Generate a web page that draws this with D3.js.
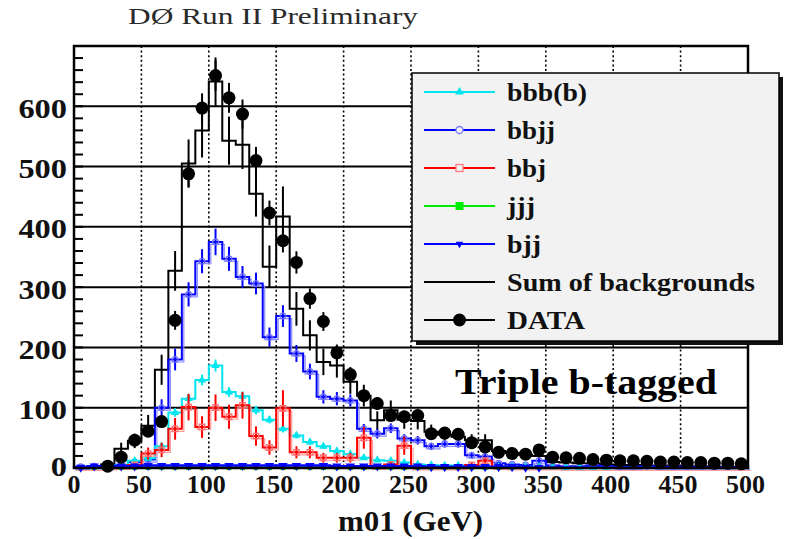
<!DOCTYPE html>
<html>
<head>
<meta charset="utf-8">
<script src="https://cdn.jsdelivr.net/npm/d3@7"></script>
<style>
  html, body { margin: 0; padding: 0; background: #fff; }
  svg { display: block; }
  text { font-family: "Liberation Serif", "Times New Roman", serif; }
</style>
</head>
<body>
<svg id="chart" width="801" height="539"></svg>
<script>
// ---- histogram binning: 10 GeV bins from 0 to 500 GeV ----
const binWidth = 10;
const binLow = d3.range(0, 500, binWidth);

// ---- observed events (null = empty bin) ----
const dataCounts = [null, null, 3, 18, 46, 61, 77, 245, 488, 597,
  651, 614, 587, 510, 423, 377, 341, 281, 243, 191,
  155, 120, 107, 87, 85, 87, 57, 58, 56, 42,
  35, 26, 24, 23, 30, 18, 17, 16, 14, 13,
  12, 12, 11, 10, 10, 9, 9, 8, 8, 7];

// ---- sum of backgrounds and its uncertainty ----
const sumBkg = [0, 2, 6, 32, 45, 70, 163, 327, 505, 560,
  641, 543, 536, 455, 334, 417, 264, 220, 176, 170,
  143, 120, 79, 96, 80, 78, 60, 55, 52, 46,
  46, 28, 25, 22, 20, 10, 9, 8, 8, 6,
  5, 5, 4, 4, 3, 3, 3, 2, 2, 2];
const sumBkgErr = [0, 2, 3, 10, 12, 18, 25, 33, 40, 45,
  40, 40, 40, 38, 35, 50, 28, 25, 22, 20,
  20, 18, 15, 16, 15, 14, 12, 12, 11, 10,
  10, 8, 8, 7, 7, 5, 5, 4, 4, 3,
  3, 3, 3, 2, 2, 2, 2, 2, 2, 2];

// ---- background components ----
const bbbb = [0, 1, 2, 4, 12, 16, 36, 92, 115, 146,
  170, 126, 119, 96, 80, 65, 54, 43, 36, 28,
  23, 17, 13, 12, 9, 6, 5, 4, 4, 3,
  3, 2, 2, 2, 2, 1, 1, 1, 1, 1,
  1, 1, 1, 0, 0, 0, 0, 0, 0, 0];
const bbbbErr = [0, 1, 1, 2, 3, 4, 5, 7, 8, 9,
  10, 8, 8, 7, 6, 6, 5, 5, 4, 4,
  3, 3, 3, 3, 2, 2, 2, 2, 2, 2,
  2, 1, 1, 1, 1, 1, 1, 1, 1, 1,
  1, 1, 1, 0, 0, 0, 0, 0, 0, 0];

const bbjj = [2, 3, 4, 5, 10, 14, 100, 180, 288, 343,
  375, 347, 317, 306, 217, 252, 190, 160, 118, 115,
  112, 65, 57, 66, 49, 46, 36, 40, 40, 21,
  19, 8, 6, 5, 12, 4, 3, 3, 4, 3,
  2, 2, 3, 2, 2, 2, 1, 1, 1, 1];
const bbjjErr = [1, 2, 2, 3, 5, 6, 14, 18, 20, 20,
  22, 20, 18, 18, 16, 18, 14, 13, 11, 11,
  10, 8, 8, 8, 7, 7, 6, 6, 6, 5,
  5, 3, 3, 3, 4, 2, 2, 2, 2, 2,
  1, 1, 2, 1, 1, 1, 1, 1, 1, 1];

const bbj = [0, 0, 1, 2, 5, 24, 30, 65, 101, 68,
  100, 85, 104, 53, 34, 99, 26, 26, 17, 17,
  17, 50, 2, 6, 37, 1, 1, 1, 1, 5,
  12, 2, 1, 1, 1, 1, 0, 0, 0, 0,
  0, 0, 0, 0, 0, 0, 0, 0, 0, 0];
const bbjErr = [0, 0, 1, 2, 4, 10, 12, 18, 22, 18,
  22, 20, 22, 16, 12, 30, 10, 10, 8, 8,
  8, 18, 2, 4, 15, 1, 1, 1, 1, 4,
  6, 1, 1, 1, 1, 1, 0, 0, 0, 0,
  0, 0, 0, 0, 0, 0, 0, 0, 0, 0];

const jjj = [0, 1, 1, 1, 1, 1, 1, 1, 1, 1,
  1, 1, 1, 1, 1, 1, 1, 1, 1, 1,
  1, 1, 1, 1, 1, 1, 1, 1, 1, 1,
  1, 1, 1, 1, 1, 0, 0, 0, 0, 0,
  0, 0, 0, 0, 0, 0, 0, 0, 0, 0];

const bjj = [1, 3, 3, 3, 3, 4, 4, 4, 4, 4,
  4, 4, 4, 4, 4, 4, 4, 4, 4, 3,
  3, 3, 3, 3, 3, 3, 2, 2, 2, 2,
  2, 2, 2, 1, 1, 1, 1, 1, 1, 1,
  1, 1, 1, 1, 1, 1, 1, 1, 1, 1];

// ---- axis ticks and labels ----
const xTicks = [0, 50, 100, 150, 200, 250, 300, 350, 400, 450, 500];
const yTicks = [0, 100, 200, 300, 400, 500, 600];
const yMinorStep = 20;
const titleText = "DØ Run II Preliminary";
const xAxisTitle = "m01 (GeV)";
const selectionLabel = "Triple b-tagged";
const legendLabels = ["bbb(b)", "bbjj", "bbj", "jjj", "bjj", "Sum of backgrounds", "DATA"];

// ---- layout ----
const frame = { left: 74, right: 748, top: 46, bottom: 468 };
const svg = d3.select("#chart");
const x = d3.scaleLinear().domain([0, 500]).range([frame.left, frame.right]);
const y = d3.scaleLinear().domain([0, 700]).range([frame.bottom, frame.top]);

const COL = { cyan: "#00e5ee", blue: "#0000ff", red: "#ff0000", green: "#00ee00", black: "#000" };

// title
svg.append("text")
  .attr("x", 128).attr("y", 24)
  .attr("font-size", 24)
  .attr("fill", "#2a2a2a")
  .attr("textLength", 290).attr("lengthAdjust", "spacingAndGlyphs")
  .text(titleText);

// horizontal grid (solid)
svg.append("g").selectAll("line")
  .data(yTicks.filter(v => v > 0))
  .join("line")
  .attr("x1", frame.left).attr("x2", frame.right)
  .attr("y1", d => y(d)).attr("y2", d => y(d))
  .attr("stroke", "#000").attr("stroke-width", 2);

// vertical grid (dotted)
svg.append("g").selectAll("line")
  .data(xTicks.filter(v => v > 0 && v < 500))
  .join("line")
  .attr("x1", d => x(d)).attr("x2", d => x(d))
  .attr("y1", frame.top).attr("y2", frame.bottom)
  .attr("stroke", "#000").attr("stroke-width", 1.6)
  .attr("stroke-dasharray", "2,2.6");

// y minor/major ticks on the left axis
svg.append("g").selectAll("line")
  .data(d3.range(yMinorStep, 700, yMinorStep))
  .join("line")
  .attr("x1", frame.left).attr("x2", frame.left + 9)
  .attr("y1", d => y(d)).attr("y2", d => y(d))
  .attr("stroke", "#000").attr("stroke-width", 2);

// ---- histogram helpers ----
function stepPath(vals) {
  const pts = [[binLow[0], 0]];
  vals.forEach((v, i) => {
    pts.push([binLow[i], v]);
    pts.push([binLow[i] + binWidth, v]);
  });
  pts.push([binLow[binLow.length - 1] + binWidth, 0]);
  return d3.line().x(d => x(d[0])).y(d => y(d[1]))(pts);
}
const center = i => x(binLow[i] + binWidth / 2);

function drawErrors(g, vals, errs, color, width) {
  g.append("g").selectAll("line")
    .data(vals.map((v, i) => ({ v, e: errs[i], i })).filter(d => d.v !== null && d.e > 0))
    .join("line")
    .attr("x1", d => center(d.i)).attr("x2", d => center(d.i))
    .attr("y1", d => y(d.v - d.e)).attr("y2", d => y(d.v + d.e))
    .attr("stroke", color).attr("stroke-width", width);
}

function drawMarkers(g, vals, type, size, fill, stroke, rotate, keep) {
  const sym = d3.symbol().type(type).size(size);
  g.append("g").selectAll("path")
    .data(vals.map((v, i) => ({ v, i })).filter(keep))
    .join("path")
    .attr("d", sym)
    .attr("transform", d => `translate(${center(d.i)},${y(d.v)}) rotate(${rotate})`)
    .attr("fill", fill).attr("stroke", stroke).attr("stroke-width", stroke === "none" ? 0 : 1.3);
}

const plot = svg.append("g");

// sum of backgrounds
plot.append("path").attr("d", stepPath(sumBkg))
  .attr("fill", "none").attr("stroke", COL.black).attr("stroke-width", 2);
drawErrors(plot, sumBkg, sumBkgErr, COL.black, 2);

// bbjj (with a faint offset trace)
plot.append("path").attr("d", stepPath(bbjj)).attr("transform", "translate(2,2.5)")
  .attr("fill", "none").attr("stroke", "#8c8cff").attr("stroke-width", 1.2);
plot.append("path").attr("d", stepPath(bbjj))
  .attr("fill", "none").attr("stroke", COL.blue).attr("stroke-width", 2);
drawErrors(plot, bbjj, bbjjErr, COL.blue, 2);
drawMarkers(plot, bbjj, d3.symbolCircle, 26, "none", "#6f6fff", 0, d => d.v > 0);

// bbb(b)
plot.append("path").attr("d", stepPath(bbbb))
  .attr("fill", "none").attr("stroke", COL.cyan).attr("stroke-width", 2);
drawErrors(plot, bbbb, bbbbErr, COL.cyan, 2);
drawMarkers(plot, bbbb, d3.symbolTriangle, 30, COL.cyan, "none", 0, d => d.i > 1 && d.i < 40);

// bbj (with a faint offset trace)
plot.append("path").attr("d", stepPath(bbj)).attr("transform", "translate(2,2.5)")
  .attr("fill", "none").attr("stroke", "#ff9c9c").attr("stroke-width", 1.2);
plot.append("path").attr("d", stepPath(bbj))
  .attr("fill", "none").attr("stroke", COL.red).attr("stroke-width", 2);
drawErrors(plot, bbj, bbjErr, COL.red, 2);
drawMarkers(plot, bbj, d3.symbolSquare, 30, "none", "#ff7070", 0, d => d.v > 3);

// jjj
plot.append("path").attr("d", stepPath(jjj))
  .attr("fill", "none").attr("stroke", COL.green).attr("stroke-width", 2);
drawMarkers(plot, jjj, d3.symbolSquare, 26, COL.green, "none", 0, d => d.v > 0);

// bjj
plot.append("path").attr("d", stepPath(bjj))
  .attr("fill", "none").attr("stroke", COL.blue).attr("stroke-width", 2.5);
drawErrors(plot, bjj, bjj.map(v => (v > 2 ? 2 : 0)), COL.blue, 2);
drawMarkers(plot, bjj, d3.symbolTriangle, 38, COL.blue, "none", 180, d => d.i < 35);

// data points with Poisson error bars
const dataErr = dataCounts.map(v => (v === null ? 0 : Math.sqrt(v)));
drawErrors(plot, dataCounts, dataErr, COL.black, 2);
plot.append("g").selectAll("circle")
  .data(dataCounts.map((v, i) => ({ v, i })).filter(d => d.v !== null))
  .join("circle")
  .attr("cx", d => center(d.i)).attr("cy", d => y(d.v))
  .attr("r", 6.5).attr("fill", "#000");

// frame
svg.append("rect")
  .attr("x", frame.left).attr("y", frame.top)
  .attr("width", frame.right - frame.left).attr("height", frame.bottom - frame.top)
  .attr("fill", "none").attr("stroke", "#000").attr("stroke-width", 2.5);

// y tick labels
svg.append("g").selectAll("text")
  .data(yTicks)
  .join("text")
  .attr("transform", d => `translate(67,${y(d) + (d === 0 ? 8 : 11.5)}) scale(1.2,1)`)
  .attr("text-anchor", "end")
  .attr("font-size", 27).attr("font-weight", "bold").attr("fill", "#111")
  .text(d => d);

// x tick labels
svg.append("g").selectAll("text")
  .data(xTicks)
  .join("text")
  .attr("x", d => x(d) - (d === 0 ? 0 : 2.5)).attr("y", 493)
  .attr("text-anchor", "middle")
  .attr("font-size", 26).attr("font-weight", "bold").attr("fill", "#111")
  .text(d => d);

// x axis title
svg.append("text")
  .attr("x", 338).attr("y", 531)
  .attr("font-size", 30).attr("font-weight", "bold").attr("fill", "#111")
  .attr("textLength", 145).attr("lengthAdjust", "spacingAndGlyphs")
  .text(xAxisTitle);

// selection label
svg.append("text")
  .attr("x", 455).attr("y", 394)
  .attr("font-size", 35).attr("font-weight", "bold").attr("fill", "#000")
  .attr("textLength", 262).attr("lengthAdjust", "spacingAndGlyphs")
  .text(selectionLabel);

// ---- legend ----
const leg = { x: 412, y: 73, w: 367, h: 268 };
const lg = svg.append("g");
lg.append("rect").attr("x", leg.x + 4).attr("y", leg.y + 4).attr("width", leg.w).attr("height", leg.h)
  .attr("fill", "#111");
lg.append("rect").attr("x", leg.x).attr("y", leg.y).attr("width", leg.w).attr("height", leg.h)
  .attr("fill", "#f2f2f2").attr("stroke", "#000").attr("stroke-width", 1.5);

const legendStyles = [
  { color: COL.cyan, marker: "triUp", width: 80 },
  { color: COL.blue, marker: "openCircle", width: 48 },
  { color: COL.red, marker: "openSquare", width: 39 },
  { color: COL.green, marker: "square", width: 28 },
  { color: COL.blue, marker: "triDown", width: 34 },
  { color: COL.black, marker: null, width: 248 },
  { color: COL.black, marker: "dot", width: 78 }
];
legendLabels.forEach((label, i) => {
  const cy = leg.y + 19 + i * 38;
  const st = legendStyles[i];
  lg.append("line").attr("x1", 424).attr("x2", 495).attr("y1", cy).attr("y2", cy)
    .attr("stroke", st.color).attr("stroke-width", 2);
  const mx = 459.5;
  if (st.marker === "triUp") {
    lg.append("path").attr("d", d3.symbol().type(d3.symbolTriangle).size(34)())
      .attr("transform", `translate(${mx},${cy})`).attr("fill", st.color);
  } else if (st.marker === "openCircle") {
    lg.append("circle").attr("cx", mx).attr("cy", cy).attr("r", 3.5)
      .attr("fill", "#f2f2f2").attr("stroke", "#7a7aff").attr("stroke-width", 1.3);
  } else if (st.marker === "openSquare") {
    lg.append("rect").attr("x", mx - 3.5).attr("y", cy - 3.5).attr("width", 7).attr("height", 7)
      .attr("fill", "#f2f2f2").attr("stroke", "#ff7a7a").attr("stroke-width", 1.3);
  } else if (st.marker === "square") {
    lg.append("rect").attr("x", mx - 4).attr("y", cy - 4).attr("width", 8).attr("height", 8)
      .attr("fill", st.color);
  } else if (st.marker === "triDown") {
    lg.append("path").attr("d", d3.symbol().type(d3.symbolTriangle).size(24)())
      .attr("transform", `translate(${mx},${cy}) rotate(180)`).attr("fill", st.color);
  } else if (st.marker === "dot") {
    lg.append("circle").attr("cx", mx).attr("cy", cy).attr("r", 6.5).attr("fill", "#000");
  }
  lg.append("text")
    .attr("x", 507).attr("y", cy + 8.5)
    .attr("font-size", 26).attr("font-weight", "bold").attr("fill", "#111")
    .attr("textLength", st.width).attr("lengthAdjust", "spacingAndGlyphs")
    .text(label);
});
</script>
</body>
</html>
